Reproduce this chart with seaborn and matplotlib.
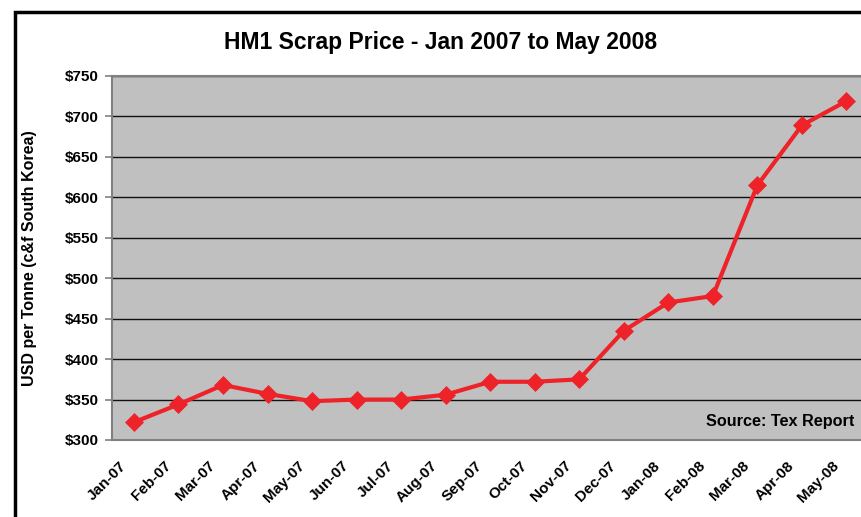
import matplotlib
matplotlib.use('Agg')
import matplotlib.pyplot as plt
import matplotlib.transforms as mtransforms
import pandas as pd
import seaborn as sns
from matplotlib.patches import Rectangle

# Data
months = ['Jan-07', 'Feb-07', 'Mar-07', 'Apr-07', 'May-07', 'Jun-07', 'Jul-07', 'Aug-07',
          'Sep-07', 'Oct-07', 'Nov-07', 'Dec-07', 'Jan-08', 'Feb-08', 'Mar-08', 'Apr-08', 'May-08']
prices = [322, 344, 368, 357, 348, 350, 350, 356, 372, 372, 375, 435, 470, 478, 615, 689, 719]
y_ticks = [300, 350, 400, 450, 500, 550, 600, 650, 700, 750]

sns.set_style('white')
plt.rcParams['font.family'] = ['Liberation Sans', 'DejaVu Sans']
plt.rcParams['font.weight'] = 'bold'
plt.rcParams['text.color'] = 'black'
plt.rcParams['axes.labelcolor'] = 'black'
plt.rcParams['xtick.color'] = 'black'
plt.rcParams['ytick.color'] = 'black'

df = pd.DataFrame({'month': months, 'price': prices})
df['pos'] = range(len(df))

W, H = 861, 517
fig = plt.figure(figsize=(W / 100, H / 100), dpi=100)
fig.patch.set_facecolor('white')

# plot area (runs past the right edge, like the cropped original)
ax = fig.add_axes([111.7 / W, 1 - 440 / H, 757 / W, 364 / H])
ax.set_facecolor('#c0c0c0')

sns.lineplot(data=df, x='pos', y='price', ax=ax, color='#ee2229', linewidth=3,
             marker='D', markersize=9, markeredgecolor='#ee2229', markeredgewidth=0.5)

ax.set_xlim(-0.5, len(df) - 0.5)
ax.set_ylim(300, 750)
ax.set_yticks(y_ticks)
ax.set_yticklabels([f'${v}' for v in y_ticks], fontsize=11, fontweight='bold')
ax.grid(axis='y', color='#111111', linewidth=1)
ax.grid(axis='x', visible=False)
ax.set_axisbelow(True)

ax.set_xticks(df['pos'])
ax.set_xticklabels(months, rotation=45, ha='right', va='center', rotation_mode='anchor',
                   fontsize=11, fontweight='bold')
ax.set_xticks([i - 0.5 for i in range(len(df) + 1)], minor=True)
ax.tick_params(axis='x', which='major', length=0, pad=12)
ax.tick_params(axis='x', which='minor', length=5, width=1.2, color='#808080')
ax.tick_params(axis='y', length=5, width=1.2, color='#808080', labelcolor='black', pad=4, left=True)

# nudge the rotated month labels left/down (after tick_params, which resets transforms)
shift = mtransforms.ScaledTranslation(-0.10, -0.07, fig.dpi_scale_trans)
for lbl in ax.get_xticklabels():
    lbl.set_transform(lbl.get_transform() + shift)

for side in ['left', 'top', 'bottom']:
    ax.spines[side].set_color('#808080')
    ax.spines[side].set_linewidth(1.5)
ax.spines['right'].set_visible(False)

ax.set_xlabel('')
ax.set_ylabel('USD per Tonne (c&f South Korea)', fontsize=11.5, fontweight='bold', va='center')
ax.yaxis.set_label_coords((29.5 - 111.7) / 757, 0.5)

ax.text(0.9806, 0.052, 'Source: Tex Report', transform=ax.transAxes, ha='right', va='center',
        fontsize=11.7, fontweight='bold', color='black')

fig.text(441 / W, 1 - 42 / H, 'HM1 Scrap Price - Jan 2007 to May 2008', ha='center', va='center',
         fontsize=16.5, fontweight='bold', color='black')

# outer chart frame, cut at the right and bottom
fig.patches.append(Rectangle((14.5 / W, -0.1), 1.0, 1 - 11.5 / H + 0.1, transform=fig.transFigure,
                             fill=False, linewidth=2.5, edgecolor='black'))

fig.savefig('out.png', dpi=100)
